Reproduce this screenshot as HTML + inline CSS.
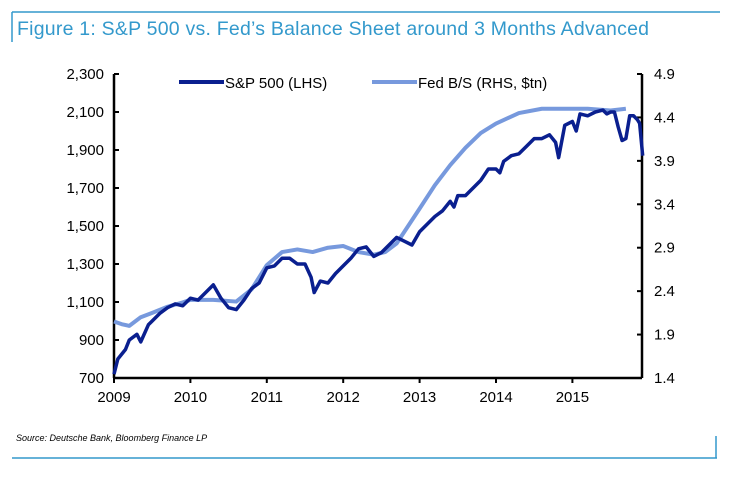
<!DOCTYPE html>
<html><head><meta charset="utf-8"><style>
body{margin:0;background:#fff;width:733px;height:475px;overflow:hidden;font-family:"Liberation Sans",sans-serif}
</style></head><body>
<svg width="733" height="475">
<line x1="12" y1="12" x2="720" y2="12" stroke="#3399cc" stroke-width="1.5"/>
<line x1="12" y1="12" x2="12" y2="42" stroke="#3399cc" stroke-width="1.5"/>
<text x="17" y="35" font-size="19.5" fill="#3399cc" textLength="632">Figure 1: S&amp;P 500 vs. Fed’s Balance Sheet around 3 Months Advanced</text>
<g id="axes"></g>
<g id="legend">
<line x1="179" y1="82" x2="224" y2="82" stroke="#0a1f8f" stroke-width="4"/>
<text x="225" y="88" font-size="15" fill="#000">S&amp;P 500 (LHS)</text>
<line x1="372" y1="82" x2="417" y2="82" stroke="#7799dd" stroke-width="4"/>
<text x="418" y="88" font-size="15" fill="#000">Fed B/S (RHS, $tn)</text>
</g>
<text x="16" y="441" font-size="9" font-style="italic" fill="#000">Source: Deutsche Bank, Bloomberg Finance LP</text>
<line x1="12" y1="458" x2="717" y2="458" stroke="#3399cc" stroke-width="1.5"/>
<line x1="716" y1="436" x2="716" y2="458" stroke="#3399cc" stroke-width="1.5"/>
</svg>
<script>
const years=[2009,2010,2011,2012,2013,2014,2015];
const leftTicks=[700,900,1100,1300,1500,1700,1900,2100,2300];
const rightTicks=[1.4,1.9,2.4,2.9,3.4,3.9,4.4,4.9];
const spT=[2009.0,2009.05,2009.15,2009.2,2009.3,2009.35,2009.45,2009.5,2009.6,2009.7,2009.8,2009.9,2010.0,2010.1,2010.2,2010.3,2010.4,2010.5,2010.6,2010.7,2010.8,2010.9,2011.0,2011.1,2011.2,2011.3,2011.4,2011.5,2011.58,2011.62,2011.7,2011.8,2011.9,2012.0,2012.1,2012.2,2012.3,2012.4,2012.5,2012.6,2012.7,2012.8,2012.9,2013.0,2013.1,2013.2,2013.3,2013.4,2013.45,2013.5,2013.6,2013.7,2013.8,2013.9,2014.0,2014.05,2014.1,2014.2,2014.3,2014.4,2014.5,2014.6,2014.7,2014.78,2014.82,2014.9,2015.0,2015.05,2015.1,2015.2,2015.3,2015.4,2015.45,2015.5,2015.55,2015.6,2015.65,2015.7,2015.75,2015.8,2015.85,2015.88,2015.92];
const spV=[720,800,850,900,930,890,980,1000,1040,1070,1090,1080,1120,1110,1150,1190,1120,1070,1060,1110,1170,1200,1280,1290,1330,1330,1300,1300,1230,1150,1210,1200,1250,1290,1330,1380,1390,1340,1360,1400,1440,1420,1400,1470,1510,1550,1580,1630,1600,1660,1660,1700,1740,1800,1800,1780,1840,1870,1880,1920,1960,1960,1980,1940,1860,2030,2050,2000,2090,2080,2100,2110,2090,2100,2100,2020,1950,1960,2080,2080,2060,2040,1870];
const fedT=[2009.0,2009.1,2009.2,2009.35,2009.5,2009.7,2009.9,2010.0,2010.3,2010.6,2010.8,2011.0,2011.2,2011.4,2011.6,2011.8,2012.0,2012.2,2012.4,2012.55,2012.7,2012.85,2013.0,2013.2,2013.4,2013.6,2013.8,2014.0,2014.3,2014.6,2014.9,2015.2,2015.5,2015.7];
const fedV=[2.05,2.02,2.0,2.1,2.15,2.22,2.27,2.3,2.3,2.28,2.42,2.7,2.85,2.88,2.85,2.9,2.92,2.85,2.82,2.85,2.95,3.15,3.35,3.62,3.85,4.05,4.22,4.33,4.45,4.5,4.5,4.5,4.48,4.5];
const X0=114,X1=642,Y0=378,Y1=74;
const xs=t=>X0+(t-2009)*76.4;
const yl=v=>Y0-(v-700)/1600*(Y0-Y1);
const yr=v=>Y0-(v-1.4)/3.5*(Y0-Y1);
const NS="http://www.w3.org/2000/svg";
const ax=document.getElementById('axes');
function mk(tag,attrs){const e=document.createElementNS(NS,tag);for(const k in attrs)e.setAttribute(k,attrs[k]);ax.appendChild(e);return e;}
let e;
e=mk('line',{x1:X0,y1:Y1,x2:X0,y2:Y0,stroke:'#000','stroke-width':2.5});


e=mk('line',{x1:X1,y1:Y1,x2:X1,y2:Y0,stroke:'#000','stroke-width':2.5});


e=mk('line',{x1:X0,y1:Y0,x2:X1,y2:Y0,stroke:'#000','stroke-width':2.5});


leftTicks.forEach(v=>{const y=yl(v);
 e=mk('line',{x1:X0,y1:y,x2:X0+5,y2:y,stroke:'#000','stroke-width':2});
 
 
 e=mk('text',{x:X0-10,y:y+5,'font-size':15,'text-anchor':'end'});e.textContent=v.toLocaleString('en-US');
 
 });
rightTicks.forEach(v=>{const y=yr(v);
 e=mk('line',{x1:X1-5,y1:y,x2:X1,y2:y,stroke:'#000','stroke-width':2});
 
 
 e=mk('text',{x:X1+12,y:y+5,'font-size':15});e.textContent=v.toFixed(1);
 
 });
years.forEach(t=>{const x=xs(t);
 e=mk('line',{x1:x,y1:Y0,x2:x,y2:Y0+5,stroke:'#000','stroke-width':2});
 
 
 e=mk('text',{x:x,y:Y0+24,'font-size':15,'text-anchor':'middle'});e.textContent=t;
 
 });
e=mk('polyline',{points:fedT.map((t,i)=>xs(t)+','+yr(fedV[i])).join(' '),fill:'none',stroke:'#7799dd','stroke-width':4,'stroke-linejoin':'round'});


e=mk('polyline',{points:spT.map((t,i)=>xs(t)+','+yl(spV[i])).join(' '),fill:'none',stroke:'#0a1f8f','stroke-width':3.5,'stroke-linejoin':'round'});


</script>
</body></html>
